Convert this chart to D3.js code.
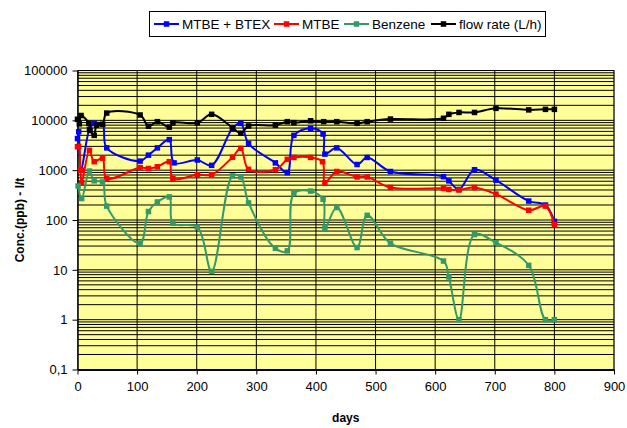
<!DOCTYPE html>
<html>
<head>
<meta charset="utf-8">
<script src="https://cdn.jsdelivr.net/npm/d3@7"></script>
<style>
  body { margin: 0; background: #fff; }
  text { font-family: "Liberation Sans", Arial, sans-serif; }
</style>
</head>
<body>
<script>
const width = 627, height = 428
const margin = {top: 70.5, left: 77.5, bottom: 58.5, right: 13}

// MTBE + BTEX
const blueDays = [0, 2, 6, 20, 28, 42, 49, 105, 119, 134, 154, 162, 201, 225, 260, 274, 287, 332, 352, 363, 391, 412, 415, 435, 469, 486, 525, 614, 623, 640, 666, 702, 757, 785, 800]
const blueVals = [4300, 5900, 1000, 6600, 8700, 8300, 2800, 1520, 2000, 2800, 4100, 1400, 1600, 1250, 6900, 8700, 3400, 1400, 890, 5000, 6900, 5300, 2100, 2800, 1300, 1800, 940, 740, 610, 410, 1020, 630, 240, 200, 94]
// MTBE
const redDays = [0, 2, 5, 7, 20, 28, 42, 49, 105, 119, 134, 154, 160, 201, 225, 260, 274, 287, 332, 352, 363, 391, 411, 415, 435, 469, 486, 525, 614, 623, 640, 666, 702, 757, 785, 800]
const redVals = [2950, 3000, 1000, 560, 2500, 1480, 1740, 680, 1130, 1080, 1170, 1480, 680, 810, 810, 1820, 2750, 1040, 1020, 1650, 1800, 1800, 1480, 560, 940, 730, 730, 450, 430, 410, 400, 450, 330, 157, 190, 81]
// Benzene
const greenDays = [1, 7, 20, 28, 42, 49, 105, 119, 134, 154, 160, 201, 225, 260, 274, 287, 332, 352, 363, 391, 412, 415, 435, 469, 486, 525, 614, 623, 640, 666, 702, 757, 785, 800]
const greenVals = [480, 270, 960, 610, 580, 190, 34, 148, 230, 290, 86, 72, 9.3, 770, 730, 220, 27, 24, 340, 380, 260, 68, 178, 28, 124, 34, 15, 7.2, 1.0, 51, 35, 12.3, 1.0, 1.0]
// flow rate (L/h)
const flowDays = [0, 3, 6, 19, 21, 28, 32, 42, 49, 105, 119, 134, 154, 160, 201, 225, 260, 274, 287, 332, 352, 363, 391, 413, 435, 469, 486, 525, 614, 623, 640, 666, 702, 757, 785, 800]
const flowVals = [10500, 8500, 12500, 8700, 6300, 5000, 8000, 8300, 14000, 12800, 7600, 9400, 7300, 8900, 8900, 13200, 7100, 5500, 7700, 8000, 9400, 9000, 9800, 9400, 9400, 8700, 9400, 10600, 11000, 13200, 14400, 14400, 17400, 16200, 16600, 16600]

const seriesNames = ['MTBE + BTEX', 'MTBE', 'Benzene', 'flow rate (L/h)']
const seriesColors = ['#0000ff', '#ff0000', '#339966', '#000000']
const xTicks = [0, 100, 200, 300, 400, 500, 600, 700, 800, 900]
const yTicks = [0.1, 1, 10, 100, 1000, 10000, 100000]
const yTickLabels = ['0,1', '1', '10', '100', '1000', '10000', '100000']

const series = [
  {name: seriesNames[0], color: seriesColors[0], pts: blueDays.map((d, i) => [d, blueVals[i]])},
  {name: seriesNames[1], color: seriesColors[1], pts: redDays.map((d, i) => [d, redVals[i]])},
  {name: seriesNames[2], color: seriesColors[2], pts: greenDays.map((d, i) => [d, greenVals[i]])},
  {name: seriesNames[3], color: seriesColors[3], pts: flowDays.map((d, i) => [d, flowVals[i]])}
]

const x = d3.scaleLinear().domain([0, 900]).range([margin.left, width - margin.right])
const y = d3.scaleLog().domain([0.1, 100000]).range([height - margin.bottom, margin.top])

const svg = d3.select('body').append('svg')
  .attr('width', width)
  .attr('height', height)

// plot area
svg.append('rect')
  .attr('x', x(0)).attr('y', y(100000))
  .attr('width', x(900) - x(0)).attr('height', y(0.1) - y(100000))
  .attr('fill', '#ffff99')
  .attr('stroke', '#808080')

// horizontal grid, major + minor
let gridVals = []
for (let e = -1; e < 5; e++) {
  for (let m = 1; m <= 9; m++) gridVals.push(m * Math.pow(10, e))
}
gridVals.push(100000)
svg.append('g').selectAll('line').data(gridVals).enter().append('line')
  .attr('x1', x(0)).attr('x2', x(900))
  .attr('y1', d => y(d)).attr('y2', d => y(d))
  .attr('stroke', '#000').attr('stroke-width', 1)

// vertical grid
svg.append('g').selectAll('line').data(xTicks.slice(1)).enter().append('line')
  .attr('x1', d => x(d)).attr('x2', d => x(d))
  .attr('y1', y(100000)).attr('y2', y(0.1))
  .attr('stroke', '#000').attr('stroke-width', 1)

// axes
const xAxis = d3.axisBottom(x).tickValues(xTicks).tickSize(5).tickSizeOuter(0)
const yAxis = d3.axisLeft(y).tickValues(yTicks).tickSize(5).tickSizeOuter(0)
  .tickFormat((d, i) => yTickLabels[i])

let gX = svg.append('g')
  .attr('transform', `translate(0, ${y(0.1)})`)
  .call(xAxis)
gX.selectAll('text').attr('font-size', 13).attr('fill', '#000').attr('dy', '1.05em')
  .style('font-family', '"Liberation Sans", Arial, sans-serif')
gX.select('.domain').attr('stroke-width', 2)

let gY = svg.append('g')
  .attr('transform', `translate(${x(0)}, 0)`)
  .call(yAxis)
gY.selectAll('text').attr('font-size', 13).attr('fill', '#000').attr('dx', '-2')
  .style('font-family', '"Liberation Sans", Arial, sans-serif')
gY.select('.domain').attr('stroke-width', 1.5)

// lines
const line = d3.line()
  .x(d => x(d[0]))
  .y(d => y(d[1]))
  .curve(d3.curveCatmullRom.alpha(0.5))

const ms = 5.5
series.forEach(s => {
  svg.append('path')
    .datum(s.pts)
    .attr('d', line)
    .attr('fill', 'none')
    .attr('stroke', s.color)
    .attr('stroke-width', 2)
  svg.append('g').selectAll('rect').data(s.pts).enter().append('rect')
    .attr('x', d => x(d[0]) - ms / 2)
    .attr('y', d => y(d[1]) - ms / 2)
    .attr('width', ms).attr('height', ms)
    .attr('fill', s.color)
})

// axis titles
svg.append('text')
  .attr('x', (x(0) + x(900)) / 2)
  .attr('y', 422)
  .attr('text-anchor', 'middle')
  .attr('font-size', 12)
  .attr('font-weight', 'bold')
  .text('days')

svg.append('text')
  .attr('transform', `translate(24, ${(y(0.1) + y(100000)) / 2}) rotate(-90)`)
  .attr('text-anchor', 'middle')
  .attr('font-size', 12)
  .attr('font-weight', 'bold')
  .text('Conc.(ppb) - l/t')

// legend
const legend = svg.append('g')
legend.append('rect')
  .attr('x', 149.5).attr('y', 11.5)
  .attr('width', 396).attr('height', 25)
  .attr('fill', '#fff').attr('stroke', '#000')
const legX = [154, 274, 344, 431]
series.forEach((s, i) => {
  const g = legend.append('g').attr('transform', `translate(${legX[i]}, 24)`)
  g.append('line').attr('x1', 0).attr('x2', 25).attr('stroke', s.color).attr('stroke-width', 2)
  g.append('rect').attr('x', 12.5 - ms / 2).attr('y', -ms / 2).attr('width', ms).attr('height', ms).attr('fill', s.color)
  g.append('text').attr('x', 28).attr('y', 4.5).attr('font-size', 13.5).text(s.name)
})
</script>
</body>
</html>
